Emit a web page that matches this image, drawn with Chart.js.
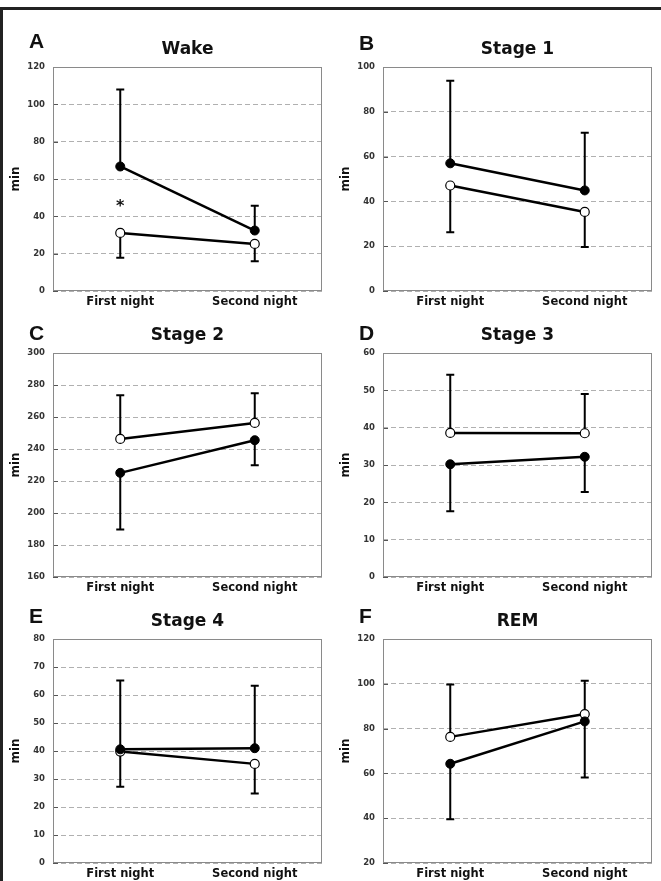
<!DOCTYPE html>
<html>
<head>
<meta charset="utf-8">
<script src="https://cdn.jsdelivr.net/npm/chart.js@4.4.1/dist/chart.umd.min.js"></script>
<style>
  body { margin: 0; background: #fff; width: 661px; height: 881px; overflow: hidden; position: relative; }
  .frame { position: absolute; left: 0; top: 7px; width: 661px; height: 874px; border-top: 3px solid #222; border-left: 3px solid #222; box-sizing: border-box; }
  canvas { position: absolute; }
</style>
</head>
<body>
<div class="frame"></div>
<canvas id="chartA" width="330" height="296" style="left:0;top:17px"></canvas>
<canvas id="chartB" width="330" height="296" style="left:330px;top:17px"></canvas>
<canvas id="chartC" width="330" height="296" style="left:0;top:303px"></canvas>
<canvas id="chartD" width="330" height="296" style="left:330px;top:303px"></canvas>
<canvas id="chartE" width="330" height="296" style="left:0;top:589px"></canvas>
<canvas id="chartF" width="330" height="296" style="left:330px;top:589px"></canvas>
<script>
const nights = ["First night", "Second night"];

// filled circles / open circles: mean and SD (min)
const wakeFilled = [66.7, 32.4];
const wakeFilledSD = [41.2, 13.3];
const wakeOpen = [31.1, 25.2];
const wakeOpenSD = [13.3, 9.2];
const wakeMark = [48, null]; // asterisk above first night

const stage1Filled = [57.0, 44.9];
const stage1FilledSD = [36.9, 25.8];
const stage1Open = [47.1, 35.3];
const stage1OpenSD = [20.9, 15.7];

const stage2Filled = [225.1, 245.5];
const stage2FilledSD = [35.4, 15.6];
const stage2Open = [246.3, 256.3];
const stage2OpenSD = [27.3, 18.5];

const stage3Filled = [30.2, 32.2];
const stage3FilledSD = [12.6, 9.4];
const stage3Open = [38.6, 38.5];
const stage3OpenSD = [15.6, 10.5];

const stage4Filled = [40.6, 41.0];
const stage4FilledSD = [24.6, 22.3];
const stage4Open = [39.8, 35.4];
const stage4OpenSD = [12.6, 10.6];

const remFilled = [64.3, 83.2];
const remFilledSD = [24.8, 25.0];
const remOpen = [76.3, 86.5];
const remOpenSD = [23.4, 14.9];

const panels = [
    { id: "chartA", letter: "A", title: "Wake", filled: wakeFilled, filledSD: wakeFilledSD, open: wakeOpen, openSD: wakeOpenSD, min: 0, max: 120, step: 20, mark: wakeMark, letterDy: 19 },
    { id: "chartB", letter: "B", title: "Stage 1", filled: stage1Filled, filledSD: stage1FilledSD, open: stage1Open, openSD: stage1OpenSD, min: 0, max: 100, step: 20, letterDy: 17 },
    { id: "chartC", letter: "C", title: "Stage 2", filled: stage2Filled, filledSD: stage2FilledSD, open: stage2Open, openSD: stage2OpenSD, min: 160, max: 300, step: 20, letterDy: 13 },
    { id: "chartD", letter: "D", title: "Stage 3", filled: stage3Filled, filledSD: stage3FilledSD, open: stage3Open, openSD: stage3OpenSD, min: 0, max: 60, step: 10, letterDy: 13 },
    { id: "chartE", letter: "E", title: "Stage 4", filled: stage4Filled, filledSD: stage4FilledSD, open: stage4Open, openSD: stage4OpenSD, min: 0, max: 80, step: 10, letterDy: 16 },
    { id: "chartF", letter: "F", title: "REM", filled: remFilled, filledSD: remFilledSD, open: remOpen, openSD: remOpenSD, min: 20, max: 120, step: 20, letterDy: 16 },
];

const FONT = "'DejaVu Sans', sans-serif";

// error bars, frame, inward ticks, asterisk, panel letter
const panelExtras = {
    id: "panelExtras",
    beforeDatasetsDraw(chart, args, opts) {
        const { ctx, chartArea: a, scales: { y } } = chart;
        ctx.save();
        ctx.strokeStyle = "#555";
        ctx.lineWidth = 1;
        y.ticks.forEach((t) => {
            const py = Math.round(y.getPixelForValue(t.value)) + 0.5;
            ctx.beginPath();
            ctx.moveTo(a.left, py);
            ctx.lineTo(a.left + 5, py);
            ctx.stroke();
        });
        ctx.strokeStyle = "#8a8a8a";
        ctx.strokeRect(Math.round(a.left) + 0.5, Math.round(a.top) + 0.5, Math.round(a.right - a.left) - 1, Math.round(a.bottom - a.top) - 1);

        // error bars go out on the side away from the other series
        ctx.strokeStyle = "#000";
        ctx.lineWidth = 2;
        chart.data.datasets.forEach((ds, i) => {
            const other = chart.data.datasets[1 - i];
            const meta = chart.getDatasetMeta(i);
            ds.data.forEach((v, j) => {
                const up = v >= other.data[j];
                const end = up ? v + ds.sd[j] : v - ds.sd[j];
                const px = meta.data[j].x;
                const py0 = y.getPixelForValue(v);
                const py1 = y.getPixelForValue(end);
                ctx.beginPath();
                ctx.moveTo(px, py0);
                ctx.lineTo(px, py1);
                ctx.moveTo(px - 4, py1);
                ctx.lineTo(px + 4, py1);
                ctx.stroke();
            });
        });
        ctx.restore();
    },
    afterDraw(chart, args, opts) {
        const { ctx, chartArea: a, scales: { x, y } } = chart;
        ctx.save();
        if (opts.mark) {
            ctx.fillStyle = "#111";
            ctx.font = "bold 16px " + FONT;
            ctx.textAlign = "center";
            ctx.textBaseline = "alphabetic";
            opts.mark.forEach((m, j) => {
                if (m == null) return;
                ctx.fillText("*", x.getPixelForValue(j), y.getPixelForValue(m) + 10);
            });
        }
        ctx.fillStyle = "#111";
        ctx.font = "bold 21px 'Liberation Sans', Arial, sans-serif";
        ctx.textAlign = "left";
        ctx.textBaseline = "alphabetic";
        ctx.fillText(opts.letter, 29, a.top - opts.letterDy);
        ctx.restore();
    },
};

function makeChart(p) {
    const ctx = document.getElementById(p.id).getContext("2d");
    return new Chart(ctx, {
        type: "line",
        data: {
            labels: nights,
            datasets: [
                {
                    label: "filled",
                    data: p.filled,
                    sd: p.filledSD,
                    borderColor: "#000",
                    borderWidth: 2.5,
                    pointRadius: 4.5,
                    pointBackgroundColor: "#000",
                    pointBorderColor: "#000",
                    pointBorderWidth: 1,
                    tension: 0,
                },
                {
                    label: "open",
                    data: p.open,
                    sd: p.openSD,
                    borderColor: "#000",
                    borderWidth: 2.5,
                    pointRadius: 4.5,
                    pointBackgroundColor: "#fff",
                    pointBorderColor: "#000",
                    pointBorderWidth: 1.2,
                    tension: 0,
                },
            ],
        },
        options: {
            responsive: false,
            animation: false,
            layout: { padding: { left: 0, right: 8, top: 0, bottom: 0 } },
            plugins: {
                legend: { display: false },
                tooltip: { enabled: false },
                title: {
                    display: true,
                    text: p.title,
                    fullSize: false,
                    color: "#111",
                    font: { family: FONT, size: 17, weight: "bold", lineHeight: 1 },
                    padding: { top: 24, bottom: 9 },
                },
                panelExtras: { letter: p.letter, letterDy: p.letterDy, mark: p.mark },
            },
            scales: {
                x: {
                    offset: true,
                    grid: { display: false, drawTicks: false },
                    border: { display: false },
                    ticks: {
                        color: "#111",
                        padding: 4,
                        font: { family: FONT, size: 11.5, weight: "bold" },
                        maxRotation: 0,
                    },
                    afterFit: (scale) => { scale.height = 22; },
                },
                y: {
                    min: p.min,
                    max: p.max,
                    grid: { color: "#b0b0b0", lineWidth: 1, drawTicks: false },
                    border: { display: false, dash: [5, 3] },
                    ticks: {
                        stepSize: p.step,
                        color: "#333",
                        padding: 8,
                        font: { family: FONT, size: 8.5, weight: "bold" },
                    },
                    title: {
                        display: true,
                        text: "min",
                        color: "#111",
                        font: { family: FONT, size: 12, weight: "bold" },
                        padding: { top: 9, bottom: 0 },
                    },
                    afterFit: (scale) => { scale.width = 53; },
                },
            },
        },
        plugins: [panelExtras],
    });
}

panels.forEach(makeChart);
</script>
</body>
</html>
